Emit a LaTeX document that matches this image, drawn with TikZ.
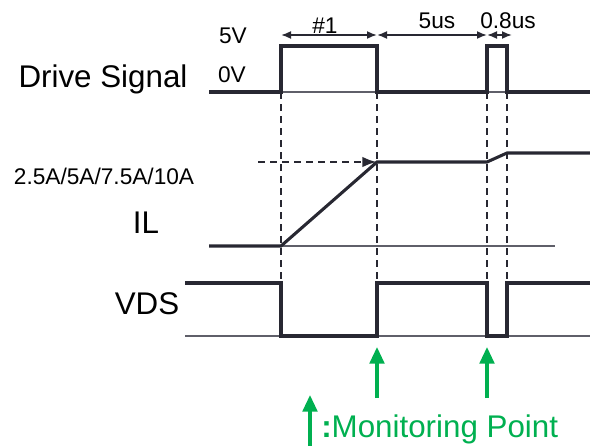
\documentclass[tikz,border=0pt]{standalone}
\usepackage{fontspec}
\setmainfont{Liberation Sans}
\usetikzlibrary{arrows.meta,positioning}
\definecolor{wire}{RGB}{40,40,50}
\definecolor{grid}{RGB}{95,95,105}
\definecolor{mark}{RGB}{0,176,80}
\tikzset{
  wave/.style={draw=wire,line width=2.3pt,line join=miter},
  base/.style={draw=grid,line width=0.8pt},
  guide/.style={draw=wire,line width=2pt,dash pattern=on 5.5pt off 3.5pt},
  dim/.style={{Latex[length=7.5pt,width=6pt]}-{Latex[length=7.5pt,width=6pt]},draw=wire,line width=1.3pt},
  probe/.style={-{Triangle[length=12.5pt,width=11pt]},draw=mark,line width=2.4pt},
  sig/.style={font=\fontsize{23.5}{26}\selectfont,inner sep=0pt,anchor=base},
  lvl/.style={font=\fontsize{17}{20}\selectfont,inner sep=0pt,anchor=base},
}
\begin{document}
\begin{tikzpicture}[x=0.75pt,y=-0.75pt]
  \useasboundingbox (0,0) rectangle (590,446);

  % names and levels
  \node[sig] (drive) at (103,87) {Drive Signal};
  \node[sig] (il) at (146,233) {IL};
  \node[sig] (vds) at (147,314) {VDS};
  \node[lvl] (high) at (233,43) {5V};
  \node[lvl] (low) at (232,82) {0V};
  \node[lvl] (amps) at (104,184) {2.5A/5A/7.5A/10A};

  % drive signal
  \draw[base] (209,92) -- (590,92);
  \draw[wave] (209,92) -- (281,92) -- (281,46) -- (377,46) -- (377,92)
    -- (487,92) -- (487,46) -- (507,46) -- (507,92) -- (590,92);

  % inductor current
  \draw[base] (209,246) -- (555,246);
  \draw[wave] (209,246) -- (281,246) -- (377,162) -- (487,162) -- (507,153) -- (590,153);

  % drain-source voltage
  \draw[base] (185,336) -- (590,336);
  \draw[wave] (185,283) -- (281,283) -- (281,336) -- (377,336) -- (377,283)
    -- (487,283) -- (487,336) -- (507,336) -- (507,283) -- (590,283);

  % timing guides
  \foreach \x in {281,377,487,507}
    \draw[guide] (\x,92) -- (\x,283);
  \coordinate (target) at (258,162);
  \coordinate (peak) at (377,162);
  \draw[guide,-{Latex[length=11pt,width=8pt]}] (target) -- (peak);

  % durations
  \coordinate (d1) at (281,35);
  \coordinate (d2) at (377,35);
  \coordinate (d3) at (487,35);
  \coordinate (d4) at (512,35);
  \draw[dim] (d1) -- (d2);
  \draw[dim] (d2) -- (d3);
  \draw[dim] (d3) -- (d4);
  \node[lvl] (w1) at (325,33) {\#1};
  \node[lvl] (w2) at (437,28) {5us};
  \node[lvl] (w3) at (508,28) {0.8us};

  % monitoring points
  \coordinate (m1) at (377,398);
  \coordinate (p1) at (377,347);
  \coordinate (m2) at (487,398);
  \coordinate (p2) at (487,347);
  \draw[probe] (m1) -- (p1);
  \draw[probe] (m2) -- (p2);
  \coordinate (k0) at (310,446);
  \coordinate (k1) at (310,395);
  \draw[probe] (k0) -- (k1);
  \node[sig,text=mark,anchor=base west] (legend) at (321,437) {\textbf{:}Monitoring Point};
\end{tikzpicture}
\end{document}
